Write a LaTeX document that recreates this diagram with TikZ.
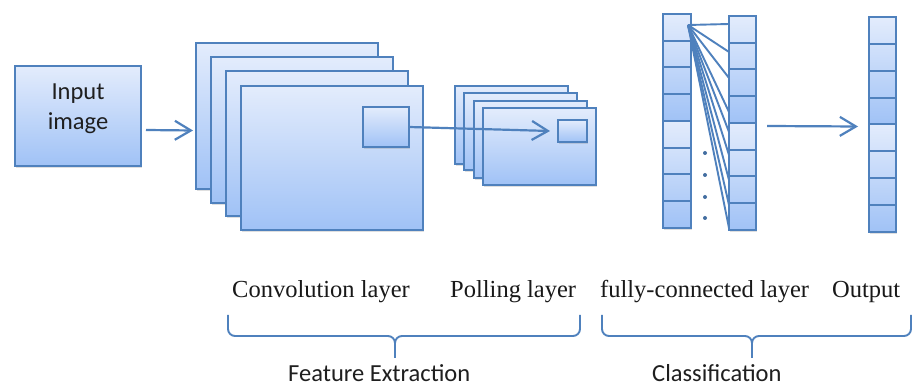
\documentclass[tikz,border=0pt]{standalone}
\usepackage{fontspec}
\setmainfont{Liberation Serif}
\newfontfamily\calibri{Carlito}
\usetikzlibrary{arrows.meta,shadows}
\definecolor{edgeblue}{HTML}{4F81BD}
\definecolor{shadetop}{RGB}{227,236,252}
\definecolor{shadebot}{RGB}{160,194,246}
\begin{document}
\begin{tikzpicture}[x=1pt,y=-1pt,
  boxshadow/.style={drop shadow={opacity=0.25,shadow xshift=1.2pt,shadow yshift=-1.8pt}},
  layer/.style={draw=edgeblue,line width=2.3pt,top color=shadetop,bottom color=shadebot,
    anchor=north west,inner sep=0pt,outer sep=0pt,boxshadow},
  colframe/.style={draw=edgeblue,line width=2.3pt,fill=white,anchor=north west,
    inner sep=0pt,outer sep=0pt,boxshadow},
  cell/.style={draw=edgeblue,line width=2pt,anchor=north west,inner sep=0pt,outer sep=0pt},
  arr/.style={draw=edgeblue,line width=2.2pt,-{Straight Barb[length=16pt,width=19pt,line width=2.2pt]}},
  conn/.style={draw=edgeblue,line width=1.9pt},
  brace/.style={draw=edgeblue,line width=1.9pt,rounded corners=7pt},
  sanslabel/.style={font=\calibri\fontsize{24.5}{30}\selectfont,inner sep=0pt,text=black!88},
  seriflabel/.style={font=\fontsize{24.5}{29}\selectfont,inner sep=0pt,text=black!90,anchor=base west},
]
\useasboundingbox[fill=white] (0,0) rectangle (914,387);

% input image
\node[layer,minimum width=126pt,minimum height=100pt] (input) at (15,66) {};
\node[sanslabel,align=center] (inlabel) at ([yshift=7pt]input.center) {Input\\image};

% convolution feature maps
\node[layer,minimum width=182pt,minimum height=146pt] (conv1) at (196,43) {};
\node[layer,minimum width=182pt,minimum height=146pt] (conv2) at (211,57) {};
\node[layer,minimum width=182pt,minimum height=145pt] (conv3) at (226,71) {};
\node[layer,minimum width=182pt,minimum height=144pt] (conv4) at (241,86) {};
\node[layer,minimum width=46pt,minimum height=40pt] (csmall) at (363,107) {};

% pooling feature maps
\node[layer,minimum width=113pt,minimum height=78pt] (pool1) at (455,86) {};
\node[layer,minimum width=113pt,minimum height=77pt] (pool2) at (464,93) {};
\node[layer,minimum width=113pt,minimum height=77pt] (pool3) at (474,101) {};
\node[layer,minimum width=113pt,minimum height=77pt] (pool4) at (483,108) {};
\node[layer,minimum width=29pt,minimum height=22pt] (psmall) at (558,120) {};

% arrows of the feature extraction part
\draw[arr] ([xshift=5pt,yshift=-14pt]input.east) -- ([xshift=-3pt,yshift=-14.5pt]conv1.west);
\coordinate (ptip) at (550,131);
\draw[arr] (csmall.east) -- (ptip);

% fully connected columns and output column
\node[colframe,minimum width=28pt,minimum height=214pt] (acol) at (663,14) {};
\node[colframe,minimum width=27pt,minimum height=214pt] (bcol) at (729,16) {};
\node[colframe,minimum width=27pt,minimum height=215pt] (ocol) at (869,17) {};
\foreach \i in {1,...,8}{
  \pgfmathtruncatemacro\j{mod(\i-1,4)}
  \pgfmathtruncatemacro\pt{100-25*\j}
  \pgfmathtruncatemacro\pb{75-25*\j}
  \node[cell,top color=shadetop!\pt!shadebot,bottom color=shadetop!\pb!shadebot,
        minimum width=28pt,minimum height=26.75pt] (a\i) at (663,{14+26.75*(\i-1)}) {};
  \node[cell,top color=shadetop!\pt!shadebot,bottom color=shadetop!\pb!shadebot,
        minimum width=27pt,minimum height=26.75pt] (b\i) at (729,{16+26.75*(\i-1)}) {};
  \node[cell,top color=shadetop!\pt!shadebot,bottom color=shadetop!\pb!shadebot,
        minimum width=27pt,minimum height=26.875pt] (o\i) at (869,{17+26.875*(\i-1)}) {};
}
% outer edges of the columns on top of the cells
\draw[edgeblue,line width=2.3pt] (acol.north west) rectangle (acol.south east);
\draw[edgeblue,line width=2.3pt] (bcol.north west) rectangle (bcol.south east);
\draw[edgeblue,line width=2.3pt] (ocol.north west) rectangle (ocol.south east);

% connections from the first unit to the next layer
\coordinate (src) at ([xshift=-3pt,yshift=-11pt]a1.north east);
\foreach \y in {24,52,78,112,132,155,180,205,228}
  \draw[conn] (src) -- (bcol.west |- 0,\y);

% ellipsis dots
\foreach \y in {153,175,197,218}
  \fill[edgeblue!85!black] (705,\y) circle (2pt);

% arrow to the output
\draw[arr] ([xshift=11pt,yshift=-3pt]bcol.east) -- ([xshift=-11pt,yshift=-2pt]ocol.west);

% layer names
\node[seriflabel] (lconv) at (232,298) {Convolution layer};
\node[seriflabel] (lpool) at (450,298) {Polling layer};
\node[seriflabel] (lfc) at (600,298) {fully-connected layer};
\node[seriflabel] (lout) at (832,298) {Output};

% braces
\draw[brace] (228,315) |- (395,336) -- (395,358);
\draw[brace] (580,315) |- (395,336) -- (395,358);
\draw[brace] (602,315) |- (752,336) -- (752,358);
\draw[brace] (911,315) |- (752,336) -- (752,358);

% group names
\node[sanslabel,anchor=base west] (gfeat) at (288,382) {Feature Extraction};
\node[sanslabel,anchor=base west] (gclass) at (652,382) {Classification};
\end{tikzpicture}
\end{document}
